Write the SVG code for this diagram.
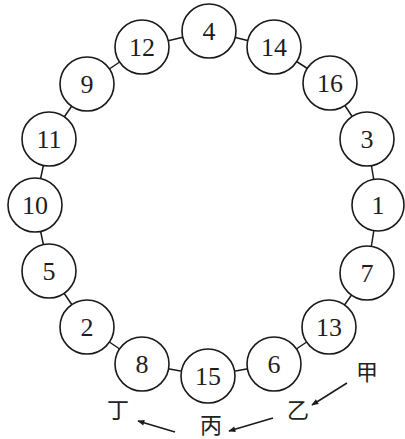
<svg xmlns="http://www.w3.org/2000/svg" width="405" height="439" viewBox="0 0 405 439">
<style>
.n circle{fill:#fff;stroke:#1a1a1a;stroke-width:1.6}
.n text{font-family:"Liberation Serif",serif;font-size:26px;fill:#1e1e1e;text-anchor:middle;dominant-baseline:central}
.e line{stroke:#1a1a1a;stroke-width:1.5}
.lab{font-family:"Liberation Serif","Noto Sans CJK SC",serif;font-size:22px;fill:#222;text-anchor:middle;dominant-baseline:central}
.ar{stroke:#1a1a1a;stroke-width:1.5;fill:none}
</style>
<defs>
<marker id="ah" viewBox="0 0 10 10" refX="9" refY="5" markerWidth="9" markerHeight="7" markerUnits="userSpaceOnUse" orient="auto">
<path d="M0,1 L10,5 L0,9 z" fill="#1a1a1a"/>
</marker>
</defs>
<g id="connectors" class="e">
<line x1="209" y1="31" x2="274" y2="47"/>
<line x1="274" y1="47" x2="330" y2="83"/>
<line x1="330" y1="83" x2="367" y2="139"/>
<line x1="367" y1="139" x2="378" y2="205"/>
<line x1="378" y1="205" x2="367" y2="273"/>
<line x1="367" y1="273" x2="329" y2="327"/>
<line x1="329" y1="327" x2="274" y2="364"/>
<line x1="274" y1="364" x2="208" y2="376"/>
<line x1="208" y1="376" x2="142" y2="364"/>
<line x1="142" y1="364" x2="87" y2="327"/>
<line x1="87" y1="327" x2="49" y2="271"/>
<line x1="49" y1="271" x2="35" y2="205"/>
<line x1="35" y1="205" x2="49" y2="139"/>
<line x1="49" y1="139" x2="87" y2="84"/>
<line x1="87" y1="84" x2="142" y2="47"/>
<line x1="142" y1="47" x2="209" y2="31"/>
</g>
<g id="n4" class="n"><circle cx="209" cy="31" r="27"/><text x="209" y="31">4</text></g>
<g id="n14" class="n"><circle cx="274" cy="47" r="27"/><text x="274" y="47">14</text></g>
<g id="n16" class="n"><circle cx="330" cy="83" r="27"/><text x="330" y="83">16</text></g>
<g id="n3" class="n"><circle cx="367" cy="139" r="27"/><text x="367" y="139">3</text></g>
<g id="n1" class="n"><circle cx="378" cy="205" r="26"/><text x="378" y="205">1</text></g>
<g id="n7" class="n"><circle cx="367" cy="273" r="27"/><text x="367" y="273">7</text></g>
<g id="n13" class="n"><circle cx="329" cy="327" r="27"/><text x="329" y="327">13</text></g>
<g id="n6" class="n"><circle cx="274" cy="364" r="27"/><text x="274" y="364">6</text></g>
<g id="n15" class="n"><circle cx="208" cy="376" r="27"/><text x="208" y="376">15</text></g>
<g id="n8" class="n"><circle cx="142" cy="364" r="27"/><text x="142" y="364">8</text></g>
<g id="n2" class="n"><circle cx="87" cy="327" r="27"/><text x="87" y="327">2</text></g>
<g id="n5" class="n"><circle cx="49" cy="271" r="27"/><text x="49" y="271">5</text></g>
<g id="n10" class="n"><circle cx="35" cy="205" r="27"/><text x="35" y="205">10</text></g>
<g id="n11" class="n"><circle cx="49" cy="139" r="27"/><text x="49" y="139">11</text></g>
<g id="n9" class="n"><circle cx="87" cy="84" r="27"/><text x="87" y="84">9</text></g>
<g id="n12" class="n"><circle cx="142" cy="47" r="27"/><text x="142" y="47">12</text></g>
<g id="labels">
<text class="lab" x="367" y="372">甲</text>
<text class="lab" x="298" y="410">乙</text>
<text class="lab" x="211" y="425">丙</text>
<text class="lab" x="118" y="410">丁</text>
</g>
<g id="arrows">
<line class="ar" x1="347" y1="383" x2="312" y2="405" marker-end="url(#ah)"/>
<line class="ar" x1="273" y1="418" x2="229" y2="431" marker-end="url(#ah)"/>
<line class="ar" x1="175" y1="432" x2="138" y2="421" marker-end="url(#ah)"/>
</g>
</svg>
